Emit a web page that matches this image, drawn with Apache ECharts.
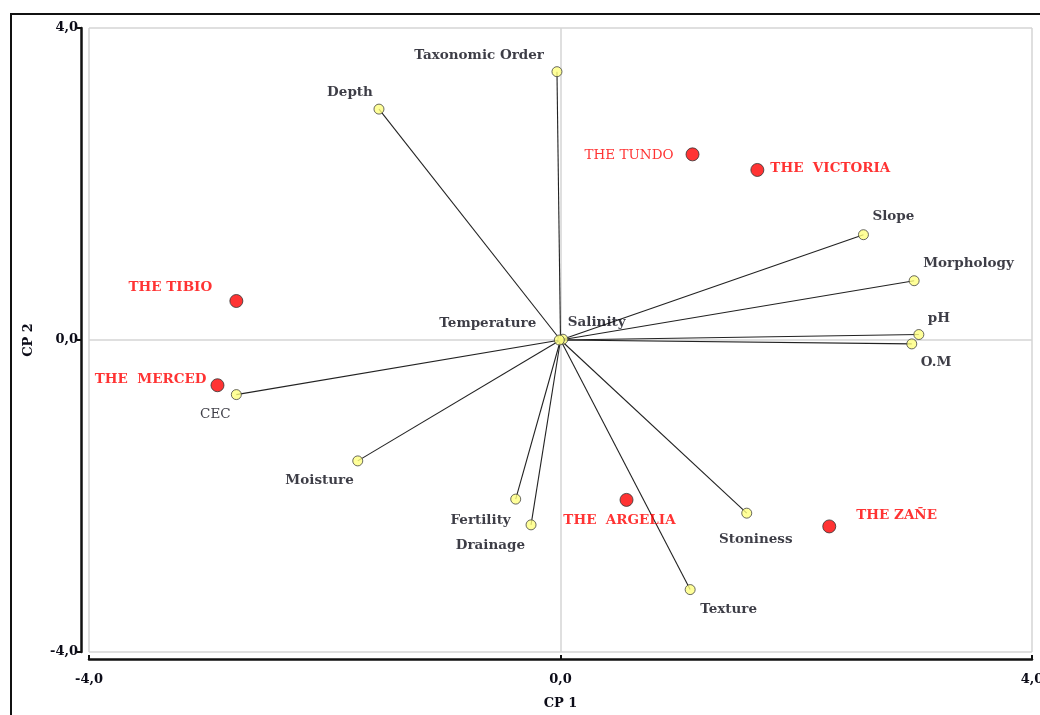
<!DOCTYPE html>
<html>
<head>
<meta charset="utf-8">
<script src="https://cdn.jsdelivr.net/npm/echarts@6/dist/echarts.min.js"></script>
<style>
  html, body { margin: 0; padding: 0; background: #fff; }
  #chart { width: 1040px; height: 715px; }
</style>
</head>
<body>
<div id="chart"></div>
<script>
// PCA biplot: soil variables (loadings) and sites (scores) on CP 1 / CP 2

const variableNames = ['Taxonomic Order', 'Depth', 'Slope', 'Morphology', 'pH', 'O.M',
  'Salinity', 'Temperature', 'CEC', 'Moisture', 'Fertility', 'Drainage', 'Texture', 'Stoniness'];
const variableCP1 = [-0.03, -1.54, 2.57, 3.00, 3.04, 2.98, 0.02, -0.01, -2.75, -1.72, -0.38, -0.25, 1.10, 1.58];
const variableCP2 = [3.44, 2.96, 1.35, 0.76, 0.07, -0.05, 0.01, 0.00, -0.70, -1.55, -2.04, -2.37, -3.20, -2.22];

const siteNames = ['THE TUNDO', 'THE  VICTORIA', 'THE TIBIO', 'THE  MERCED', 'THE  ARGELIA', 'THE ZAÑE'];
const siteCP1 = [1.12, 1.67, -2.75, -2.91, 0.56, 2.28];
const siteCP2 = [2.38, 2.18, 0.50, -0.58, -2.05, -2.39];

const axisTicks = [-4, 0, 4];

// label placement around each marker: [align, dx, dy]
const labelPlace = {
  'Taxonomic Order': ['right', -13, -16],
  'Depth': ['center', -29, -17],
  'Slope': ['left', 9, -18],
  'Morphology': ['left', 9, -17],
  'pH': ['left', 9, -16],
  'O.M': ['left', 9, 19],
  'Salinity': ['left', 5, -17],
  'Temperature': ['right', -23, -17],
  'CEC': ['center', -21, 20],
  'Moisture': ['right', -4, 20],
  'Fertility': ['right', -5, 21],
  'Drainage': ['right', -6, 21],
  'Texture': ['left', 10, 20],
  'Stoniness': ['center', 9, 26],
  'THE TUNDO': ['right', -19, 1],
  'THE  VICTORIA': ['left', 13, -1],
  'THE TIBIO': ['center', -66, -14],
  'THE  MERCED': ['right', -11, -6],
  'THE  ARGELIA': ['center', -7, 21],
  'THE ZAÑE': ['left', 27, -11]
};
const regularWeight = { 'CEC': true, 'THE TUNDO': true };

const FONT = 'DejaVu Serif';
const fmt = v => v.toFixed(1).replace('.', ',');

function labelFor(name, color) {
  const p = labelPlace[name];
  return {
    show: true,
    position: 'inside',
    align: p[0],
    verticalAlign: 'middle',
    offset: [p[1], p[2]],
    formatter: name,
    fontFamily: FONT,
    fontSize: 13.5,
    fontWeight: regularWeight[name] ? 'normal' : 'bold',
    color: color
  };
}

const variablePoints = variableNames.map((n, i) => ({
  name: n,
  value: [variableCP1[i], variableCP2[i]],
  label: labelFor(n, '#0c0c18')
}));
const sitePoints = siteNames.map((n, i) => ({
  name: n,
  value: [siteCP1[i], siteCP2[i]],
  label: labelFor(n, '#ff0000')
}));

const chart = echarts.init(document.getElementById('chart'), null, { renderer: 'canvas' });

const axisCommon = {
  type: 'value',
  min: axisTicks[0],
  max: axisTicks[axisTicks.length - 1],
  interval: 4,
  nameLocation: 'middle',
  nameTextStyle: { fontFamily: FONT, fontWeight: 'bold', fontSize: 13, color: '#0c0c18' },
  axisLine: { show: true, onZero: false, lineStyle: { color: '#111', width: 2.5 } },
  axisTick: { show: true, length: 4, lineStyle: { color: '#111', width: 2 } },
  axisLabel: { formatter: fmt, fontFamily: FONT, fontWeight: 'bold', fontSize: 13, color: '#0c0c18' },
  splitLine: { show: true, lineStyle: { color: '#d4d4d4', width: 1.5 } }
};

chart.setOption({
  animation: false,
  backgroundColor: '#fff',
  graphic: [{
    type: 'rect',
    shape: { x: 11, y: 14, width: 1100, height: 800 },
    style: { fill: 'none', stroke: '#111', lineWidth: 2 },
    silent: true,
    z: -10
  }],
  grid: { left: 89, right: 8, top: 28, bottom: 63, containLabel: false, outerBoundsMode: 'none' },
  xAxis: Object.assign({}, axisCommon, {
    name: 'CP 1',
    nameGap: 38,
    offset: 7,
    axisTick: { show: true, inside: true, length: 4, lineStyle: { color: '#111', width: 2 } },
    axisLabel: Object.assign({}, axisCommon.axisLabel, { margin: 14 })
  }),
  yAxis: Object.assign({}, axisCommon, {
    name: 'CP 2',
    nameGap: 46,
    offset: 8,
    axisLabel: Object.assign({}, axisCommon.axisLabel, { margin: 3 })
  }),
  series: [
    {
      // loading vectors from the origin
      type: 'custom',
      data: variableNames.map((n, i) => [variableCP1[i], variableCP2[i]]),
      renderItem: (params, api) => {
        const o = api.coord([0, 0]);
        const p = api.coord([api.value(0), api.value(1)]);
        return {
          type: 'line',
          shape: { x1: o[0], y1: o[1], x2: p[0], y2: p[1] },
          style: { stroke: '#222', lineWidth: 1.1 }
        };
      },
      silent: true,
      z: 2
    },
    {
      type: 'scatter',
      data: variablePoints,
      symbol: 'circle',
      symbolSize: 10,
      itemStyle: { color: '#ffff80', borderColor: '#444', borderWidth: 1 },
      z: 3
    },
    {
      type: 'scatter',
      data: sitePoints,
      symbol: 'circle',
      symbolSize: 13,
      itemStyle: { color: '#ff0000', borderColor: '#333', borderWidth: 1 },
      z: 4
    }
  ]
});
</script>
</body>
</html>
